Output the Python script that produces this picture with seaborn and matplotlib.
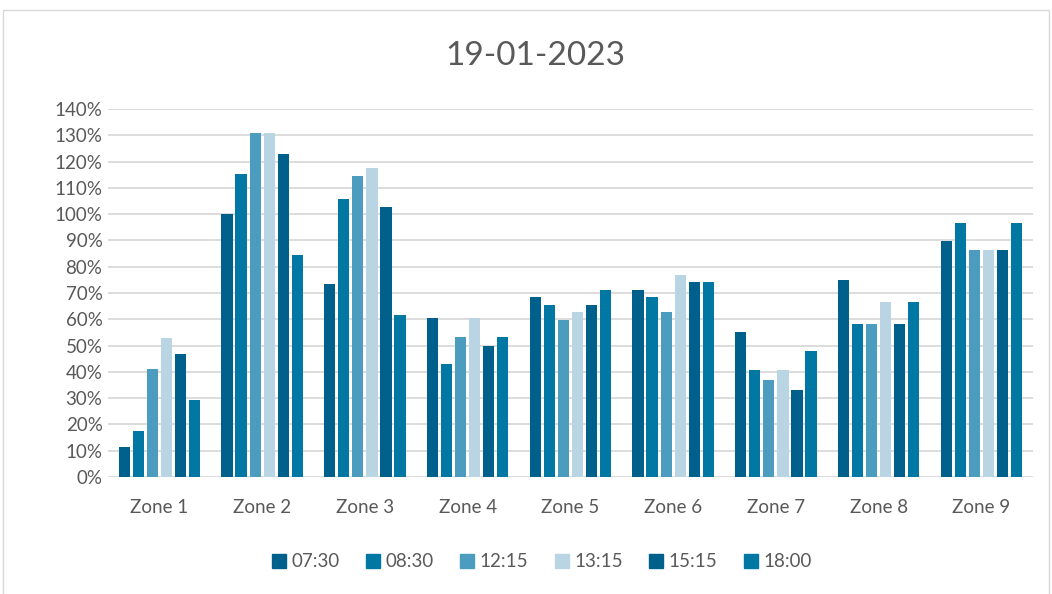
import pandas as pd
import matplotlib.pyplot as plt
import matplotlib.patches as mpatches
import seaborn as sns
from matplotlib.ticker import FuncFormatter

# ── Data (percent) ────────────────────────────────────────
zones = ["Zone 1", "Zone 2", "Zone 3", "Zone 4", "Zone 5",
         "Zone 6", "Zone 7", "Zone 8", "Zone 9"]
times = ["07:30", "08:30", "12:15", "13:15", "15:15", "18:00"]

t0730 = [11.5, 100.0, 73.4, 60.5, 68.4, 71.2, 55.3, 74.9, 89.8]
t0830 = [17.4, 115.2, 105.7, 42.8, 65.6, 68.4, 40.6, 58.2, 96.6]
t1215 = [41.0, 130.7, 114.6, 53.4, 59.8, 62.7, 36.8, 58.2, 86.5]
t1315 = [52.7, 130.7, 117.5, 60.5, 62.7, 76.9, 40.6, 66.5, 86.5]
t1515 = [46.8, 123.0, 102.8, 49.7, 65.6, 74.1, 33.1, 58.2, 86.5]
t1800 = [29.2, 84.5, 61.5, 53.4, 71.2, 74.1, 48.0, 66.5, 96.6]

colors = ["#00608C", "#0078A3", "#4B9CBE", "#B9D5E3", "#00608C", "#0078A3"]

series = [t0730, t0830, t1215, t1315, t1515, t1800]
rows = []
for t, vals in zip(times, series):
    for z, v in zip(zones, vals):
        rows.append({"zone": z, "time": t, "value": v})
df = pd.DataFrame(rows)

# ── Plot ───────────────────────────────────────────────────
sns.set_theme(style="white")
plt.rcParams["font.family"] = ["Lato", "DejaVu Sans"]
text_color = "#595959"

fig = plt.figure(figsize=(10.52, 5.94), dpi=100)
ax = fig.add_axes([0.1027, 0.197, 0.879, 0.6195])

sns.barplot(data=df, x="zone", y="value", hue="time", order=zones,
            hue_order=times, palette=colors, saturation=1, width=0.82,
            gap=0.2, edgecolor="none", ax=ax, legend=False)

ax.set_ylim(0, 140)
ax.set_xlim(-0.5, len(zones) - 0.5)
ax.set_yticks(range(0, 141, 10))
ax.yaxis.set_major_formatter(FuncFormatter(lambda v, p: f"{v:.0f}%"))
ax.grid(axis="y", color="#D9D9D9", linewidth=1.3)
ax.set_axisbelow(True)
for s in ax.spines.values():
    s.set_visible(False)
ax.tick_params(axis="both", length=0, labelsize=13.5, labelcolor=text_color)
ax.tick_params(axis="x", pad=16)
ax.tick_params(axis="y", pad=4)
ax.set_xlabel("")
ax.set_ylabel("")

fig.text(0.509, 0.905, "19-01-2023", ha="center", va="center",
         fontsize=24, color=text_color)

handles = [mpatches.Patch(color=c, label=t) for c, t in zip(colors, times)]
fig.legend(handles=handles, loc="center", bbox_to_anchor=(0.515, 0.054),
           ncol=6, frameon=False, fontsize=13.5, handlelength=0.75,
           handleheight=0.75, handletextpad=0.3, columnspacing=1.4,
           labelcolor=text_color)

# chart area border
fig.add_artist(mpatches.Rectangle((0.003, -0.01), 0.994, 0.993,
                                  transform=fig.transFigure, fill=False,
                                  edgecolor="#D9D9D9", linewidth=1))

plt.savefig("out.png", dpi=100)
